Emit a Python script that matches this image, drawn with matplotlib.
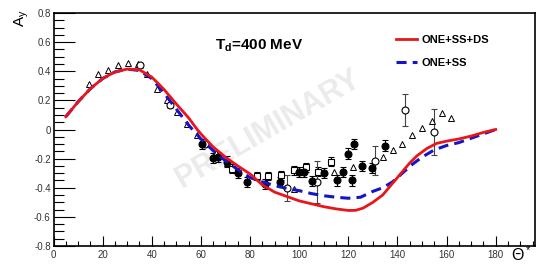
import matplotlib
matplotlib.use("Agg")
import matplotlib.pyplot as plt
from matplotlib.ticker import MultipleLocator

plt.rcParams['font.family'] = ['Liberation Sans', 'DejaVu Sans']
plt.rcParams['mathtext.fontset'] = 'custom'
plt.rcParams['mathtext.rm'] = 'Liberation Sans'
plt.rcParams['mathtext.it'] = 'Liberation Sans:italic'
plt.rcParams['mathtext.bf'] = 'Liberation Sans:bold'

# --- theory curves ---
red_x = [5, 10, 15, 20, 25, 30, 35, 40, 45, 50, 55, 58.5, 60, 65, 70, 75, 80, 85, 90, 95, 100,
         105, 110, 115, 120, 123, 126, 130, 134, 138, 141, 145, 148, 152, 156, 160, 165, 170, 175, 180]
red_y = [0.088, 0.19, 0.28, 0.35, 0.395, 0.415, 0.41, 0.36, 0.275, 0.175, 0.08, 0.0, -0.03, -0.12,
         -0.19, -0.25, -0.305, -0.38, -0.43, -0.46, -0.49, -0.51, -0.53, -0.545, -0.556, -0.555,
         -0.54, -0.50, -0.45, -0.37, -0.31, -0.23, -0.18, -0.13, -0.095, -0.08, -0.065, -0.045, -0.02, 0.0]
blue_x = [5, 10, 15, 20, 25, 30, 35, 40, 45, 50, 55, 60, 65, 70, 75, 80, 85, 90, 95, 100, 105, 110,
          115, 120, 125, 130, 134, 138, 142, 146, 150, 155, 160, 165, 170, 175, 180]
blue_y = [0.088, 0.19, 0.28, 0.35, 0.395, 0.415, 0.405, 0.35, 0.25, 0.14, 0.03, -0.065, -0.145,
          -0.215, -0.275, -0.33, -0.36, -0.385, -0.405, -0.42, -0.44, -0.455, -0.465, -0.472, -0.465,
          -0.425, -0.40, -0.36, -0.30, -0.24, -0.19, -0.14, -0.11, -0.09, -0.06, -0.03, 0.0]

# --- data: open triangles (no errors) ---
tri_x = [14.5, 18.3, 22.3, 26.4, 30.2, 34.5, 38.2, 42, 46, 50.2, 54.3, 58.3, 62, 66, 70.5,
         98, 114.3, 122, 134, 138, 141.8, 145.9, 150, 154, 158, 162]
tri_y = [0.31, 0.38, 0.41, 0.44, 0.46, 0.45, 0.38, 0.28, 0.20, 0.12, 0.04, -0.035, -0.10, -0.16, -0.23,
         -0.41, -0.29, -0.26, -0.19, -0.14, -0.10, -0.04, 0.007, 0.06, 0.11, 0.08]

# --- open circles ---
oc_x = [35.2, 47.3, 61.7, 95, 107.2, 131, 143.2, 155]
oc_y = [0.44, 0.165, -0.10, -0.40, -0.36, -0.215, 0.135, -0.016]
oc_e = [0.02, 0.02, 0.02, 0.09, 0.145, 0.10, 0.11, 0.16]

# --- filled circles ---
fc_x = [60.4, 65, 67, 70.5, 75.3, 78.7, 86.2, 92, 100, 101.8, 105.2, 110, 115.4, 118, 120,
        121.5, 122.5, 125.5, 129.5, 134.9]
fc_y = [-0.097, -0.195, -0.19, -0.22, -0.30, -0.36, -0.375, -0.36, -0.29, -0.29, -0.355, -0.30,
        -0.35, -0.29, -0.165, -0.35, -0.097, -0.25, -0.265, -0.11]
fc_e = [0.035] * len(fc_x)

# --- open squares ---
sq_x = [72.6, 82.7, 87.5, 92.5, 97.7, 102.8, 107.6, 112.9]
sq_y = [-0.27, -0.32, -0.32, -0.315, -0.28, -0.26, -0.29, -0.22]
sq_e = [0.03] * len(sq_x)

W, H = 536, 266
fig = plt.figure(figsize=(W / 100, H / 100), dpi=100)
ax = fig.add_axes([53.5 / W, 20 / H, (535 - 53.5) / W, (246 - 13) / H])
ax.set_xlim(0, 196)
ax.set_ylim(-0.8, 0.8)

ax.text(0.445, 0.50, 'PRELIMINARY', transform=ax.transAxes, ha='center', va='center',
        rotation=30, fontsize=22, color='#ebebeb', fontweight='bold', zorder=0)

ax.errorbar(sq_x, sq_y, yerr=sq_e, fmt='s', mfc='white', mec='black', ms=5, mew=0.8,
            ecolor='black', elinewidth=0.8, capsize=2, capthick=0.8, zorder=3)
ax.errorbar(oc_x, oc_y, yerr=oc_e, fmt='o', mfc='white', mec='black', ms=5, mew=0.8,
            ecolor='#444444', elinewidth=0.8, capsize=2, capthick=0.8, zorder=3)
ax.errorbar(fc_x, fc_y, yerr=fc_e, fmt='o', mfc='black', mec='black', ms=5, mew=0.8,
            ecolor='black', elinewidth=0.8, capsize=2, capthick=0.8, zorder=3)
ax.plot(tri_x, tri_y, '^', mfc='white', mec='black', ms=5, mew=0.7, ls='none', zorder=3)

ax.plot(blue_x, blue_y, color='#1414c8', lw=2.2, ls=(0, (3.3, 2.0)), zorder=4, label='ONE+SS')
ax.plot(red_x, red_y, color='#e8161b', lw=2.0, zorder=5, label='ONE+SS+DS')

h, l = ax.get_legend_handles_labels()
leg = ax.legend(h[::-1], l[::-1], loc='upper left', bbox_to_anchor=(0.69, 0.95), frameon=False,
                prop={'weight': 'bold', 'size': 8}, handlelength=1.9, handletextpad=0.4,
                labelspacing=1.2)

ax.text(65.8, 0.572, r'$\mathbf{T_d}$=400 MeV', fontsize=11, fontweight='bold', va='center', ha='left')

ax.xaxis.set_major_locator(MultipleLocator(20))
ax.xaxis.set_minor_locator(MultipleLocator(5))
ax.yaxis.set_major_locator(MultipleLocator(0.2))
ax.yaxis.set_minor_locator(MultipleLocator(0.05))
ax.tick_params(axis='x', which='major', direction='in', length=7, width=0.8, labelsize=7, pad=3, colors='black', labelcolor='#333333')
ax.tick_params(axis='x', which='minor', direction='in', length=3.5, width=0.8)
ax.tick_params(axis='y', which='major', direction='in', length=15, width=0.8, labelsize=7, pad=2, labelcolor='#333333')
ax.tick_params(axis='y', which='minor', direction='in', length=7, width=0.8)
ax.set_xticks([0, 20, 40, 60, 80, 100, 120, 140, 160, 180])
ax.set_xticklabels(['0', '20', '40', '60', '80', '100', '120', '140', '160', '180'])
ax.set_yticks([-0.8, -0.6, -0.4, -0.2, 0, 0.2, 0.4, 0.6, 0.8])
ax.set_yticklabels(['-0.8', '-0.6', '-0.4', '-0.2', '0', '0.2', '0.4', '0.6', '0.8'])
for s in ax.spines.values():
    s.set_linewidth(1.2)

fig.text(22 / W, 1 - 18 / H, r'A$_\mathrm{y}$', fontsize=11, rotation=90, ha='center', va='center')
fig.text(521 / W, 1 - 255 / H, r'$\Theta^*$', fontsize=11.5, ha='center', va='center')

fig.savefig('out.png', dpi=100)
